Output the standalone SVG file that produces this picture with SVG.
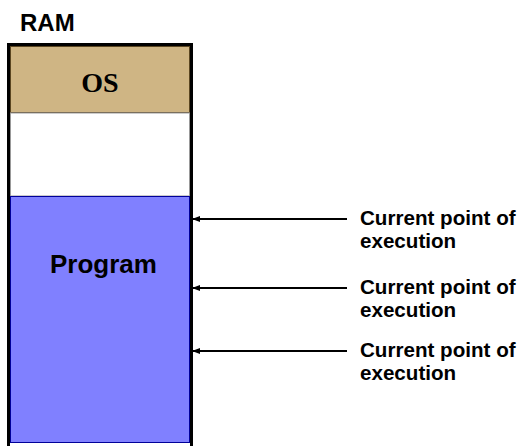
<svg xmlns="http://www.w3.org/2000/svg" width="523" height="446" viewBox="0 0 523 446">
<style>
.lbl{font-family:"Liberation Sans",Arial,sans-serif;font-weight:bold;font-size:20.6px;fill:#000}
.conn{stroke:#000;stroke-width:2;fill:none;marker-end:url(#ah)}
</style>
<defs>
<marker id="ah" markerWidth="8" markerHeight="6" refX="7" refY="3" orient="auto" markerUnits="userSpaceOnUse">
<path d="M0,0 L8,3 L0,6 Z" fill="#000"/>
</marker>
</defs>
<rect width="523" height="446" fill="#fff"/>
<text x="20" y="31" style="font-family:'Liberation Sans',Arial,sans-serif;font-weight:bold;font-size:24px">RAM</text>
<g id="ram">
<rect x="8.5" y="44.5" width="183" height="404" fill="#fff" stroke="#000" stroke-width="3"/>
</g>
<g id="os">
<rect x="10.5" y="46.5" width="179" height="66" fill="#cfb584" stroke="#5a4520" stroke-width="1"/>
<text x="100" y="92" text-anchor="middle" style="font-family:'Liberation Serif','Times New Roman',serif;font-weight:bold;font-size:28px">OS</text>
</g>
<g id="free">
<rect x="10.5" y="113" width="179" height="83" fill="#fff" stroke="#999" stroke-width="1"/>
</g>
<g id="program">
<rect x="10.5" y="196.5" width="179" height="246" fill="#8080ff" stroke="#000099" stroke-width="1"/>
<text x="50" y="273" style="font-family:'Liberation Sans',Arial,sans-serif;font-weight:bold;font-size:26px">Program</text>
</g>
<g id="connectors">
<line class="conn" x1="347" y1="219" x2="193" y2="219"/>
<line class="conn" x1="347" y1="288" x2="193" y2="288"/>
<line class="conn" x1="347" y1="351" x2="193" y2="351"/>
</g>
<g id="label1">
<text class="lbl" x="360" y="225">Current point of</text>
<text class="lbl" x="360" y="248">execution</text>
</g>
<g id="label2">
<text class="lbl" x="360" y="294">Current point of</text>
<text class="lbl" x="360" y="317">execution</text>
</g>
<g id="label3">
<text class="lbl" x="360" y="357">Current point of</text>
<text class="lbl" x="360" y="380">execution</text>
</g>
</svg>
